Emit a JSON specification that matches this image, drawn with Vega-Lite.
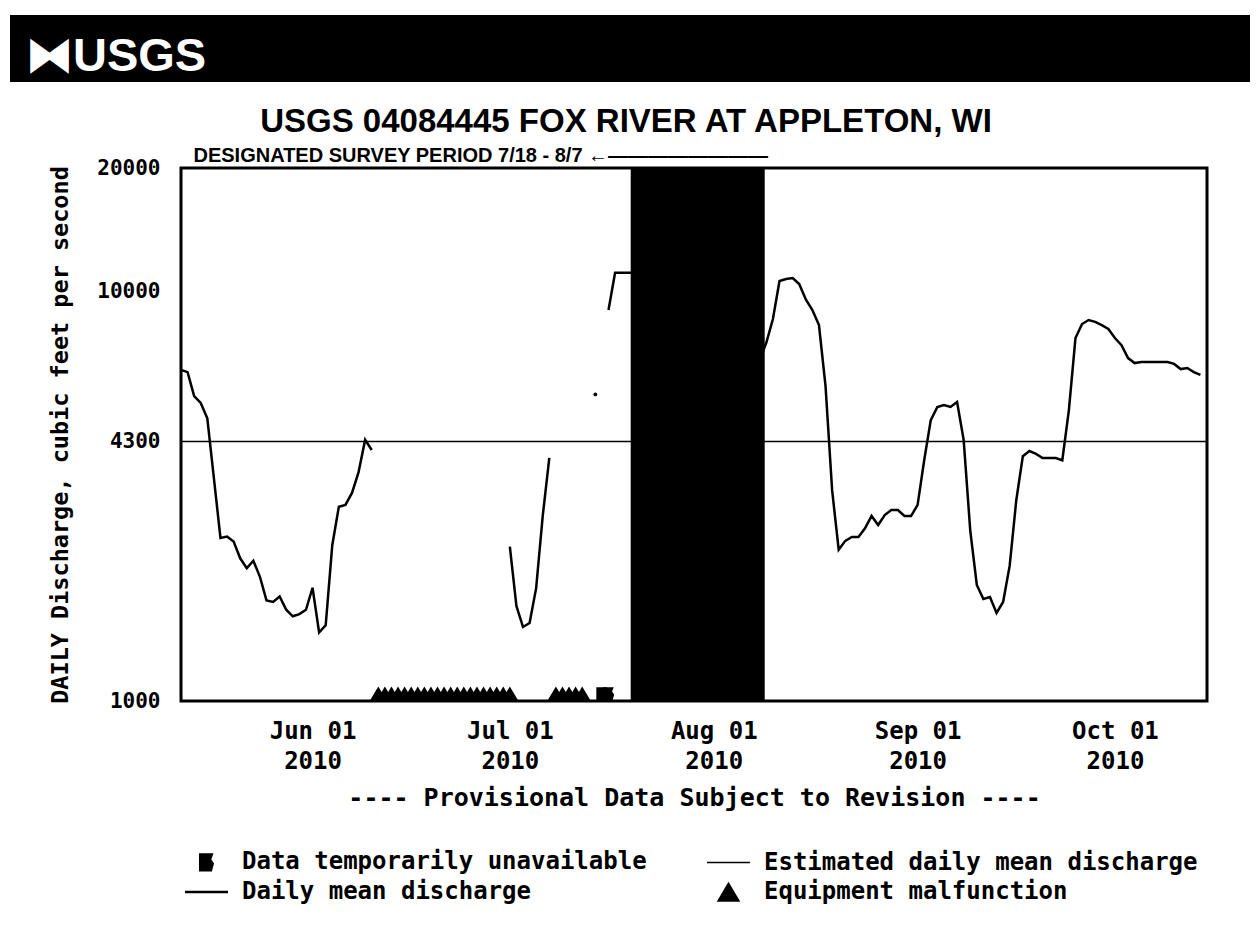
{
  "$schema": "https://vega.github.io/schema/vega-lite/v6.json",
  "background": "white",
  "padding": {"left": 10, "top": 15, "right": 0, "bottom": 0},
  "spacing": 22,
  "resolve": {"legend": {"shape": "independent"}},
  "datasets": {
    "daily": [
      {"date": "2010-05-12", "q": 6430, "seg": "a"},
      {"date": "2010-05-13", "q": 6350, "seg": "a"},
      {"date": "2010-05-14", "q": 5550, "seg": "a"},
      {"date": "2010-05-15", "q": 5340, "seg": "a"},
      {"date": "2010-05-16", "q": 4900, "seg": "a"},
      {"date": "2010-05-17", "q": 3500, "seg": "a"},
      {"date": "2010-05-18", "q": 2500, "seg": "a"},
      {"date": "2010-05-19", "q": 2520, "seg": "a"},
      {"date": "2010-05-20", "q": 2450, "seg": "a"},
      {"date": "2010-05-21", "q": 2230, "seg": "a"},
      {"date": "2010-05-22", "q": 2110, "seg": "a"},
      {"date": "2010-05-23", "q": 2200, "seg": "a"},
      {"date": "2010-05-24", "q": 2010, "seg": "a"},
      {"date": "2010-05-25", "q": 1760, "seg": "a"},
      {"date": "2010-05-26", "q": 1745, "seg": "a"},
      {"date": "2010-05-27", "q": 1800, "seg": "a"},
      {"date": "2010-05-28", "q": 1670, "seg": "a"},
      {"date": "2010-05-29", "q": 1610, "seg": "a"},
      {"date": "2010-05-30", "q": 1630, "seg": "a"},
      {"date": "2010-05-31", "q": 1670, "seg": "a"},
      {"date": "2010-06-01", "q": 1890, "seg": "a"},
      {"date": "2010-06-02", "q": 1470, "seg": "a"},
      {"date": "2010-06-03", "q": 1530, "seg": "a"},
      {"date": "2010-06-04", "q": 2400, "seg": "a"},
      {"date": "2010-06-05", "q": 2980, "seg": "a"},
      {"date": "2010-06-06", "q": 3010, "seg": "a"},
      {"date": "2010-06-07", "q": 3220, "seg": "a"},
      {"date": "2010-06-08", "q": 3620, "seg": "a"},
      {"date": "2010-06-09", "q": 4340, "seg": "a"},
      {"date": "2010-06-10", "q": 4100, "seg": "a"},
      {"date": "2010-07-01", "q": 2380, "seg": "b"},
      {"date": "2010-07-02", "q": 1705, "seg": "b"},
      {"date": "2010-07-03", "q": 1516, "seg": "b"},
      {"date": "2010-07-04", "q": 1550, "seg": "b"},
      {"date": "2010-07-05", "q": 1886, "seg": "b"},
      {"date": "2010-07-06", "q": 2830, "seg": "b"},
      {"date": "2010-07-07", "q": 3920, "seg": "b"},
      {"date": "2010-07-16", "q": 9000, "seg": "c"},
      {"date": "2010-07-17", "q": 11100, "seg": "c"},
      {"date": "2010-07-18", "q": 11100, "seg": "c"},
      {"date": "2010-07-19", "q": 11100, "seg": "c"},
      {"date": "2010-07-20", "q": 11100, "seg": "c"},
      {"date": "2010-08-08", "q": 6800, "seg": "d"},
      {"date": "2010-08-09", "q": 7500, "seg": "d"},
      {"date": "2010-08-10", "q": 8560, "seg": "d"},
      {"date": "2010-08-11", "q": 10600, "seg": "d"},
      {"date": "2010-08-12", "q": 10720, "seg": "d"},
      {"date": "2010-08-13", "q": 10780, "seg": "d"},
      {"date": "2010-08-14", "q": 10420, "seg": "d"},
      {"date": "2010-08-15", "q": 9550, "seg": "d"},
      {"date": "2010-08-16", "q": 9000, "seg": "d"},
      {"date": "2010-08-17", "q": 8270, "seg": "d"},
      {"date": "2010-08-18", "q": 5870, "seg": "d"},
      {"date": "2010-08-19", "q": 3270, "seg": "d"},
      {"date": "2010-08-20", "q": 2340, "seg": "d"},
      {"date": "2010-08-21", "q": 2460, "seg": "d"},
      {"date": "2010-08-22", "q": 2514, "seg": "d"},
      {"date": "2010-08-23", "q": 2514, "seg": "d"},
      {"date": "2010-08-24", "q": 2640, "seg": "d"},
      {"date": "2010-08-25", "q": 2830, "seg": "d"},
      {"date": "2010-08-26", "q": 2690, "seg": "d"},
      {"date": "2010-08-27", "q": 2844, "seg": "d"},
      {"date": "2010-08-28", "q": 2925, "seg": "d"},
      {"date": "2010-08-29", "q": 2925, "seg": "d"},
      {"date": "2010-08-30", "q": 2828, "seg": "d"},
      {"date": "2010-08-31", "q": 2828, "seg": "d"},
      {"date": "2010-09-01", "q": 3010, "seg": "d"},
      {"date": "2010-09-02", "q": 3870, "seg": "d"},
      {"date": "2010-09-03", "q": 4850, "seg": "d"},
      {"date": "2010-09-04", "q": 5220, "seg": "d"},
      {"date": "2010-09-05", "q": 5280, "seg": "d"},
      {"date": "2010-09-06", "q": 5220, "seg": "d"},
      {"date": "2010-09-07", "q": 5370, "seg": "d"},
      {"date": "2010-09-08", "q": 4340, "seg": "d"},
      {"date": "2010-09-09", "q": 2610, "seg": "d"},
      {"date": "2010-09-10", "q": 1920, "seg": "d"},
      {"date": "2010-09-11", "q": 1775, "seg": "d"},
      {"date": "2010-09-12", "q": 1794, "seg": "d"},
      {"date": "2010-09-13", "q": 1640, "seg": "d"},
      {"date": "2010-09-14", "q": 1745, "seg": "d"},
      {"date": "2010-09-15", "q": 2140, "seg": "d"},
      {"date": "2010-09-16", "q": 3090, "seg": "d"},
      {"date": "2010-09-17", "q": 3960, "seg": "d"},
      {"date": "2010-09-18", "q": 4075, "seg": "d"},
      {"date": "2010-09-19", "q": 4010, "seg": "d"},
      {"date": "2010-09-20", "q": 3920, "seg": "d"},
      {"date": "2010-09-21", "q": 3920, "seg": "d"},
      {"date": "2010-09-22", "q": 3920, "seg": "d"},
      {"date": "2010-09-23", "q": 3870, "seg": "d"},
      {"date": "2010-09-24", "q": 5130, "seg": "d"},
      {"date": "2010-09-25", "q": 7690, "seg": "d"},
      {"date": "2010-09-26", "q": 8320, "seg": "d"},
      {"date": "2010-09-27", "q": 8510, "seg": "d"},
      {"date": "2010-09-28", "q": 8420, "seg": "d"},
      {"date": "2010-09-29", "q": 8270, "seg": "d"},
      {"date": "2010-09-30", "q": 8090, "seg": "d"},
      {"date": "2010-10-01", "q": 7690, "seg": "d"},
      {"date": "2010-10-02", "q": 7390, "seg": "d"},
      {"date": "2010-10-03", "q": 6870, "seg": "d"},
      {"date": "2010-10-04", "q": 6680, "seg": "d"},
      {"date": "2010-10-05", "q": 6720, "seg": "d"},
      {"date": "2010-10-06", "q": 6720, "seg": "d"},
      {"date": "2010-10-07", "q": 6720, "seg": "d"},
      {"date": "2010-10-08", "q": 6720, "seg": "d"},
      {"date": "2010-10-09", "q": 6720, "seg": "d"},
      {"date": "2010-10-10", "q": 6650, "seg": "d"},
      {"date": "2010-10-11", "q": 6460, "seg": "d"},
      {"date": "2010-10-12", "q": 6500, "seg": "d"},
      {"date": "2010-10-13", "q": 6350, "seg": "d"},
      {"date": "2010-10-14", "q": 6250, "seg": "d"}
    ],
    "single": [
      {"date": "2010-07-14", "q": 5600}
    ],
    "markers": [
      {"date": "2010-06-11", "kind": "Equipment malfunction"},
      {"date": "2010-06-12", "kind": "Equipment malfunction"},
      {"date": "2010-06-13", "kind": "Equipment malfunction"},
      {"date": "2010-06-14", "kind": "Equipment malfunction"},
      {"date": "2010-06-15", "kind": "Equipment malfunction"},
      {"date": "2010-06-16", "kind": "Equipment malfunction"},
      {"date": "2010-06-17", "kind": "Equipment malfunction"},
      {"date": "2010-06-18", "kind": "Equipment malfunction"},
      {"date": "2010-06-19", "kind": "Equipment malfunction"},
      {"date": "2010-06-20", "kind": "Equipment malfunction"},
      {"date": "2010-06-21", "kind": "Equipment malfunction"},
      {"date": "2010-06-22", "kind": "Equipment malfunction"},
      {"date": "2010-06-23", "kind": "Equipment malfunction"},
      {"date": "2010-06-24", "kind": "Equipment malfunction"},
      {"date": "2010-06-25", "kind": "Equipment malfunction"},
      {"date": "2010-06-26", "kind": "Equipment malfunction"},
      {"date": "2010-06-27", "kind": "Equipment malfunction"},
      {"date": "2010-06-28", "kind": "Equipment malfunction"},
      {"date": "2010-06-29", "kind": "Equipment malfunction"},
      {"date": "2010-06-30", "kind": "Equipment malfunction"},
      {"date": "2010-07-01", "kind": "Equipment malfunction"},
      {"date": "2010-07-08", "kind": "Equipment malfunction"},
      {"date": "2010-07-09", "kind": "Equipment malfunction"},
      {"date": "2010-07-10", "kind": "Equipment malfunction"},
      {"date": "2010-07-11", "kind": "Equipment malfunction"},
      {"date": "2010-07-12", "kind": "Equipment malfunction"},
      {"date": "2010-07-15", "kind": "Data temporarily unavailable"},
      {"date": "2010-07-16", "kind": "Data temporarily unavailable"}
    ],
    "blackout": [
      {"start": "2010-07-19T09:00", "end": "2010-08-08T18:00"}
    ]
  },
  "vconcat": [
    {
      "width": 1240,
      "height": 67,
      "view": {"fill": "black", "stroke": null},
      "title": {
        "text": "⧓USGS",
        "orient": "top",
        "anchor": "start",
        "offset": -103,
        "baseline": "alphabetic",
        "font": "Liberation Sans",
        "fontSize": 47,
        "fontWeight": "bold",
        "color": "white",
        "dx": 16
      },
      "data": {"values": [{"label": ""}]},
      "mark": {"type": "text"},
      "encoding": {"text": {"field": "label"}}
    },
    {
      "spacing": 20,
      "resolve": {"legend": {"shape": "independent"}},
      "hconcat": [
        {
          "width": 17,
          "height": 1,
          "view": {"stroke": null},
          "data": {"values": [{"label": ""}]},
          "mark": {"type": "text"},
          "encoding": {"text": {"field": "label"}}
        },
        {
          "width": 1026,
          "height": 533,
          "view": {"stroke": "black", "strokeWidth": 3},
          "title": {
            "text": "USGS 04084445 FOX RIVER AT APPLETON, WI",
            "anchor": "middle",
            "dx": -68,
            "offset": 6,
            "baseline": "top",
            "font": "Liberation Sans",
            "fontSize": 33,
            "fontWeight": "bold",
            "color": "black"
          },
          "resolve": {"axis": {"x": "independent"}},
          "layer": [
            {
              "data": {"name": "daily"},
              "mark": {"type": "line", "color": "black", "strokeWidth": 2.5, "strokeJoin": "miter"},
              "encoding": {
                "x": {
                  "field": "date",
                  "type": "temporal",
                  "scale": {"domain": [{"year": 2010, "month": 5, "date": 12}, {"year": 2010, "month": 10, "date": 15}]},
                  "axis": {
                    "orient": "bottom",
                    "values": [
                      {"year": 2010, "month": 6, "date": 1},
                      {"year": 2010, "month": 7, "date": 1},
                      {"year": 2010, "month": 8, "date": 1},
                      {"year": 2010, "month": 9, "date": 1},
                      {"year": 2010, "month": 10, "date": 1}
                    ],
                    "labelExpr": "[timeFormat(datum.value, '%b %d'), timeFormat(datum.value, '%Y')]",
                    "labelFontSize": 24,
                    "labelLineHeight": 30,
                    "labelPadding": 18,
                    "title": "---- Provisional Data Subject to Revision ----",
                    "titleFontSize": 25,
                    "titlePadding": 12
                  }
                },
                "y": {
                  "field": "q",
                  "type": "quantitative",
                  "scale": {"type": "log", "domain": [1000, 20000], "nice": false},
                  "axis": {
                    "values": [1000, 4300, 10000, 20000],
                    "format": "d",
                    "labelFontSize": 21,
                    "labelPadding": 21,
                    "title": "DAILY Discharge, cubic feet per second",
                    "titleFontSize": 23.5,
                    "titlePadding": 24
                  }
                },
                "detail": {"field": "seg"}
              }
            },
            {
              "data": {"name": "single"},
              "mark": {"type": "circle", "color": "black", "size": 14, "opacity": 1},
              "encoding": {
                "x": {"field": "date", "type": "temporal", "axis": null},
                "y": {"field": "q", "type": "quantitative"}
              }
            },
            {
              "data": {"values": [{}]},
              "mark": {"type": "rule", "color": "black", "strokeWidth": 1.5},
              "encoding": {"y": {"datum": 4300}}
            },
            {
              "data": {"name": "markers"},
              "mark": {"type": "point", "filled": true, "color": "black", "opacity": 1, "size": 256, "yOffset": -7},
              "encoding": {
                "x": {"field": "date", "type": "temporal", "axis": null},
                "y": {"datum": 1000},
                "shape": {
                  "field": "kind",
                  "type": "nominal",
                  "scale": {
                    "domain": ["Data temporarily unavailable", "Estimated daily mean discharge", "Daily mean discharge", "Equipment malfunction"],
                    "range": ["M-0.7,-0.85H0.65L0.45,-0.3L0.7,0.1L0.5,0.85H-0.7Z", "M-2,-0.08H2V0.08H-2Z", "M-2,-0.12H2V0.12H-2Z", "M0,-0.95L1.1,0.9L-1.1,0.9Z"]
                  },
                  "legend": {
                    "orient": "none",
                    "legendX": 13.5,
                    "legendY": 682,
                    "columns": 2,
                    "direction": "horizontal",
                    "title": null,
                    "symbolSize": 462,
                    "labelFont": "DejaVu Sans Mono",
                    "labelFontWeight": "bold",
                    "labelFontSize": 24,
                    "labelColor": "black",
                    "labelOffset": 23.5,
                    "labelLimit": 0,
                    "columnPadding": 56,
                    "rowPadding": 3,
                    "padding": 0
                  }
                }
              }
            },
            {
              "data": {"name": "blackout"},
              "mark": {"type": "rect", "color": "black", "opacity": 1},
              "encoding": {
                "x": {
                  "field": "start",
                  "type": "temporal",
                  "axis": {
                    "orient": "top",
                    "labels": false,
                    "ticks": false,
                    "domain": false,
                    "grid": false,
                    "title": "DESIGNATED SURVEY PERIOD 7/18 - 8/7 ←————————",
                    "titleFont": "Liberation Sans",
                    "titleFontSize": 20,
                    "titleFontWeight": "bold",
                    "titleAnchor": "start",
                    "titleAlign": "left",
                    "titleBaseline": "alphabetic",
                    "titleX": 12,
                    "titleY": -7
                  }
                },
                "x2": {"field": "end"}
              }
            }
          ]
        }
      ]
    }
  ],
  "config": {
    "axis": {
      "labelFont": "DejaVu Sans Mono",
      "labelFontWeight": "bold",
      "labelColor": "black",
      "titleFont": "DejaVu Sans Mono",
      "titleFontWeight": "bold",
      "titleColor": "black",
      "grid": false,
      "ticks": false,
      "domain": false
    }
  }
}
